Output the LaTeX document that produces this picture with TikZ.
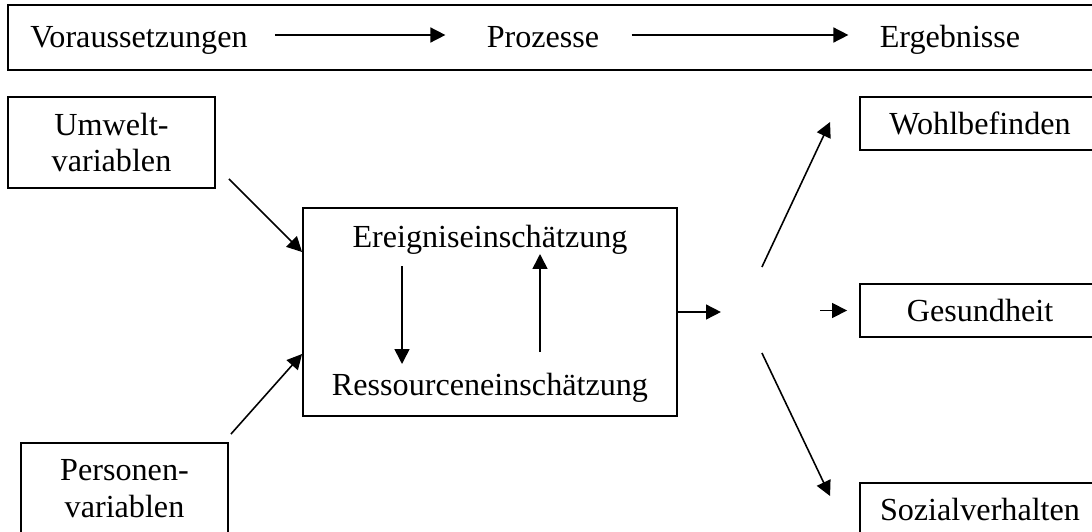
\documentclass[tikz,border=0pt]{standalone}
\usepackage{fontspec}
\setmainfont{Liberation Serif}
\usetikzlibrary{calc,arrows.meta,positioning}
\tikzset{
  >={Triangle[length=8.5pt,width=8.5pt]},
}

\begin{document}
\begin{tikzpicture}[x=0.02cm,y=-0.02cm]
      \tikzset{
          every node/.style={font=\fontsize{18.3}{21}\selectfont},
          kasten/.style={rectangle,draw=black,line width=1.1pt,inner sep=0pt,align=center},
          beschriftung/.style={inner sep=0pt,anchor=base},
          pfeil/.style={draw,line width=0.9pt,->},
      }
      \useasboundingbox (0,0) rectangle (1092,531);

      \node[kasten, minimum width=21.84cm, minimum height=1.3cm] (rahmen) at (554,37.5) {};
      \node[beschriftung] (voraus) at (139,47) {Voraussetzungen};
      \node[beschriftung] (prozesse) at (543,47) {Prozesse};
      \node[beschriftung] (ergebnisse) at (950,47) {Ergebnisse};

      \node[kasten, minimum width=4.14cm, minimum height=1.82cm] (umwelt) at (111.5,142.5) {Umwelt-\\variablen};
      \node[kasten, minimum width=4.14cm, minimum height=1.82cm] (personen) at (124.5,488.5) {Personen-\\variablen};

      \node[kasten, minimum width=7.48cm, minimum height=4.16cm] (prozess) at (490,312) {};
      \node[beschriftung] (ereignis) at (490,247) {Ereigniseinschätzung};
      \node[beschriftung] (ressource) at (490,395) {Ressourceneinschätzung};

      \node[kasten, minimum width=4.8cm, minimum height=1.06cm] (wohl) at (980,123.5) {Wohlbefinden};
      \node[kasten, minimum width=4.8cm, minimum height=1.06cm] (gesund) at (980,310.5) {Gesundheit};
      \node[kasten, minimum width=4.8cm, minimum height=1.06cm] (sozial) at (980,509.5) {Sozialverhalten};

      \path[pfeil] ($(voraus.base east)+(27,-12)$) -- ($(prozesse.base west)+(-41,-12)$);
      \path[pfeil] ($(prozesse.base east)+(32,-12)$) -- ($(ergebnisse.base west)+(-31,-12)$);

      \path[pfeil] ($(umwelt.south east)+(13,-10)$) -- ($(prozess.west)+(0,-60)$);
      \path[pfeil] ($(personen.north east)+(2,-8)$) -- ($(prozess.west)+(0,42)$);

      \path[pfeil] ($(ereignis.base)+(-88,19)$) -- ($(ressource.base)+(-88,-31)$);
      \path[pfeil] ($(ressource.base)+(50,-43)$) -- ($(ereignis.base)+(50,7)$);

      \path[pfeil] (prozess.east) -- ($(prozess.east)+(43,0)$);
      \path[pfeil] ($(prozess.east)+(84,-45)$) -- ($(wohl.west)+(-29,-1.5)$);
      \path[pfeil] ($(gesund.west)+(-39,0)$) -- ($(gesund.west)+(-12,0)$);
      \path[pfeil] ($(prozess.east)+(84,41)$) -- ($(sozial.west)+(-29,-13.5)$);

      \end{tikzpicture}
\end{document}
